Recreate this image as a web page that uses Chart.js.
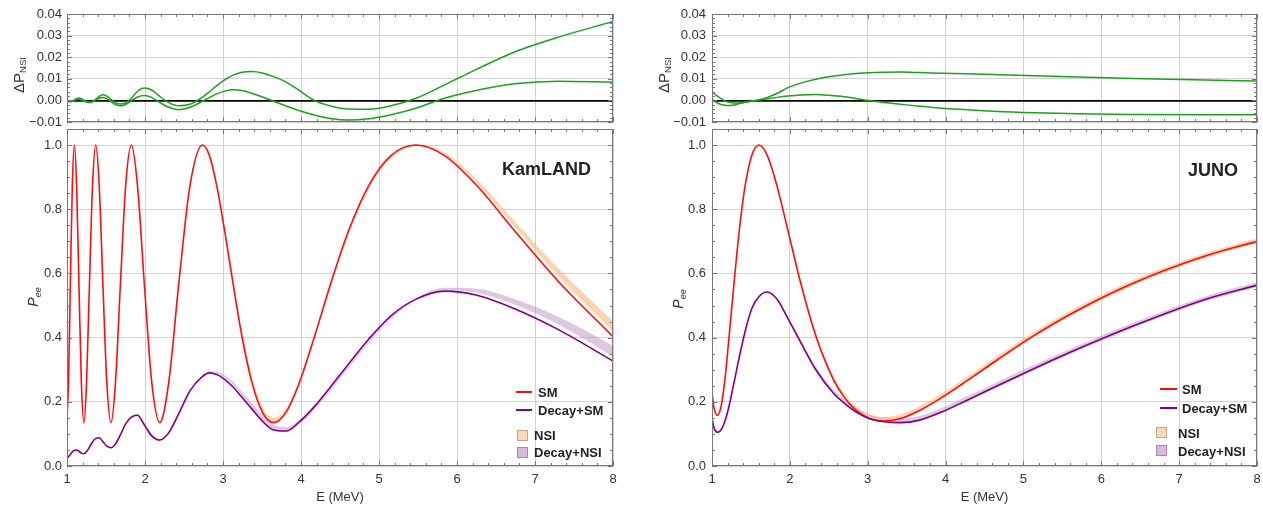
<!DOCTYPE html>
<html lang="en">
<head>
<meta charset="utf-8">
<title>Pee at KamLAND and JUNO</title>
<script src="https://cdn.jsdelivr.net/npm/chart.js@4.4.1/dist/chart.umd.min.js"></script>
<style>
  html, body { margin: 0; padding: 0; background: #fff; }
  #fig { position: relative; width: 1263px; height: 506px; overflow: hidden;
         font-family: 'Liberation Sans', Arial, sans-serif; color: #222; }
  #fig canvas { position: absolute; }
  .ytitle { position: absolute; transform: translate(-50%, -50%) rotate(-90deg);
            white-space: nowrap; color: #333; line-height: 1; }
  .ytitle sub { font-size: 0.64em; vertical-align: -0.3em; line-height: 0; }
  .tag { position: absolute; font-weight: bold; font-size: 18px; transform: translateY(-50%); }
  .legtext { position: absolute; font-weight: bold; font-size: 13px; transform: translateY(-50%); white-space: nowrap; }
  .legline { position: absolute; height: 2px; }
  .legbox { position: absolute; box-sizing: border-box; border: 1px solid; }
</style>
</head>
<body>
<div id="fig">
  <canvas id="kamTop" width="630" height="126" style="left:0;top:0"></canvas>
  <canvas id="kamMain" width="630" height="380" style="left:0;top:126px"></canvas>
  <canvas id="junoTop" width="623" height="126" style="left:640px;top:0"></canvas>
  <canvas id="junoMain" width="623" height="380" style="left:640px;top:126px"></canvas>

  <div class="ytitle" style="left:18px;top:75px;font-size:15px">ΔP<sub>NSI</sub></div>
  <div class="ytitle" style="left:663px;top:75px;font-size:15px">ΔP<sub>NSI</sub></div>
  <div class="ytitle" style="left:33px;top:297px;font-size:14px"><i>P</i><sub><i>ee</i></sub></div>
  <div class="ytitle" style="left:678px;top:299px;font-size:14px"><i>P</i><sub><i>ee</i></sub></div>

  <div class="tag" style="left:502px;top:169px">KamLAND</div>
  <div class="tag" style="left:1188px;top:170px">JUNO</div>
</div>

<script>
// ---- KamLAND: energy grid (MeV) and curves ----
const kamE = [1.000, 1.019, 1.043, 1.068, 1.095, 1.123, 1.153, 1.184, 1.217, 1.251,
              1.288, 1.327, 1.369, 1.413, 1.460, 1.510, 1.564, 1.622, 1.685, 1.752,
              1.825, 1.904, 1.991, 2.086, 2.190, 2.305, 2.433, 2.576, 2.737, 2.826,
              2.920, 3.021, 3.129, 3.244, 3.369, 3.504, 3.650, 3.809, 3.982, 4.171,
              4.380, 4.610, 4.867, 5.153, 5.475, 5.840, 6.257, 6.738, 7.300, 8.000];
const kamSM = [0.150, 0.262, 0.568, 0.873, 1.000, 0.873, 0.568, 0.262, 0.135, 0.262,
               0.568, 0.873, 1.000, 0.873, 0.568, 0.262, 0.135, 0.262, 0.568, 0.873,
               1.000, 0.873, 0.568, 0.262, 0.135, 0.262, 0.568, 0.873, 1.000, 0.967,
               0.873, 0.733, 0.568, 0.402, 0.262, 0.168, 0.135, 0.168, 0.262, 0.402,
               0.568, 0.733, 0.873, 0.967, 1.000, 0.967, 0.873, 0.733, 0.575, 0.403];
const kamDecaySM = [0.026, 0.029, 0.036, 0.044, 0.049, 0.050, 0.046, 0.040, 0.038, 0.045,
                    0.059, 0.075, 0.086, 0.088, 0.076, 0.062, 0.057, 0.069, 0.097, 0.131,
                    0.152, 0.158, 0.128, 0.094, 0.081, 0.104, 0.163, 0.234, 0.279, 0.290,
                    0.285, 0.270, 0.246, 0.214, 0.178, 0.140, 0.112, 0.109, 0.138, 0.185,
                    0.247, 0.318, 0.395, 0.468, 0.520, 0.545, 0.532, 0.490, 0.425, 0.327];
// NSI shift of Pee (top panel)
const kamDP1 = [-0.0003, -0.0005, -0.0006, -0.0004, 0.0002, 0.0008, 0.0011, 0.0008, 0.0001, -0.0005,
                -0.0008, -0.0005, 0.0005, 0.0019, 0.0026, 0.0020, 0.0005, -0.0010, -0.0017, -0.0012,
                0.0010, 0.0042, 0.0057, 0.0048, 0.0018, -0.0010, -0.0025, -0.0018, 0.0015, 0.0040,
                0.0068, 0.0095, 0.0117, 0.0130, 0.0134, 0.0127, 0.0110, 0.0085, 0.0045, 0.0000,
                -0.0026, -0.0040, -0.0041, -0.0025, 0.0010, 0.0072, 0.0145, 0.0224, 0.0293, 0.0365];
const kamDP2 = [0.0000, -0.0003, -0.0005, -0.0004, 0.0000, 0.0004, 0.0005, 0.0002, -0.0004, -0.0008,
                -0.0010, -0.0006, 0.0002, 0.0011, 0.0014, 0.0008, -0.0006, -0.0019, -0.0025, -0.0019,
                -0.0002, 0.0016, 0.0023, 0.0014, -0.0010, -0.0032, -0.0043, -0.0032, -0.0004, 0.0013,
                0.0030, 0.0043, 0.0049, 0.0046, 0.0033, 0.0016, -0.0004, -0.0026, -0.0048, -0.0068,
                -0.0084, -0.0091, -0.0085, -0.0066, -0.0036, 0.0010, 0.0047, 0.0077, 0.0089, 0.0085];
// width of the NSI bands around each curve (offsets from the line)
const kamBandLo = [-0.0004, -0.0007, -0.0008, -0.0006, 0.0000, 0.0006, 0.0007, 0.0003, -0.0006, -0.0011,
                   -0.0014, -0.0008, 0.0003, 0.0015, 0.0020, 0.0011, -0.0008, -0.0027, -0.0035, -0.0027,
                   -0.0003, 0.0022, 0.0032, 0.0020, -0.0014, -0.0045, -0.0060, -0.0045, -0.0006, 0.0018,
                   0.0042, 0.0060, 0.0069, 0.0064, 0.0046, 0.0022, -0.0006, -0.0036, -0.0067, -0.0095,
                   -0.0118, -0.0127, -0.0119, -0.0092, -0.0030, 0.0020, 0.0080, 0.0130, 0.0160, 0.0150];
const kamBandHi = [0.0000, -0.0004, -0.0007, -0.0006, 0.0003, 0.0011, 0.0015, 0.0011, 0.0001, -0.0007,
                   -0.0011, -0.0007, 0.0007, 0.0027, 0.0036, 0.0028, 0.0007, -0.0014, -0.0024, -0.0017,
                   0.0014, 0.0059, 0.0080, 0.0067, 0.0025, -0.0014, -0.0035, -0.0025, 0.0021, 0.0056,
                   0.0095, 0.0133, 0.0164, 0.0182, 0.0188, 0.0178, 0.0154, 0.0119, 0.0063, 0.0000,
                   -0.0036, -0.0056, -0.0057, -0.0035, 0.0020, 0.0100, 0.0200, 0.0300, 0.0400, 0.0480];

// ---- JUNO ----
const junoE = [1.000, 1.027, 1.069, 1.116, 1.167, 1.222, 1.283, 1.351, 1.426, 1.510,
               1.604, 1.711, 1.833, 1.974, 2.139, 2.333, 2.566, 2.702, 2.852, 3.019,
               3.208, 3.422, 3.666, 3.948, 4.277, 4.666, 5.133, 5.703, 6.416, 7.333, 8.000];
const junoSM = [0.228, 0.180, 0.158, 0.185, 0.272, 0.410, 0.570, 0.735, 0.874, 0.967,
                1.000, 0.967, 0.874, 0.735, 0.570, 0.406, 0.266, 0.213, 0.173, 0.148,
                0.140, 0.148, 0.173, 0.213, 0.266, 0.331, 0.406, 0.486, 0.570, 0.654, 0.700];
const junoDecaySM = [0.148, 0.118, 0.105, 0.112, 0.140, 0.190, 0.260, 0.340, 0.420, 0.490,
                     0.528, 0.542, 0.520, 0.460, 0.385, 0.300, 0.225, 0.195, 0.168, 0.148,
                     0.138, 0.135, 0.143, 0.168, 0.205, 0.250, 0.303, 0.365, 0.437, 0.519, 0.5635];
const junoDP1 = [0.0041, 0.0032, 0.0020, 0.0008, -0.0002, -0.0009, -0.0012, -0.0012, -0.0008, -0.0003,
                 0.0003, 0.0014, 0.0032, 0.0059, 0.0080, 0.0098, 0.0113, 0.0119, 0.0124, 0.0128,
                 0.0130, 0.0131, 0.0129, 0.0126, 0.0123, 0.0119, 0.0114, 0.0108, 0.0101, 0.0094, 0.0090];
const junoDP2 = [0.0006, -0.0002, -0.0012, -0.0019, -0.0023, -0.0024, -0.0021, -0.0015, -0.0009, -0.0004,
                 0.0002, 0.0008, 0.0014, 0.0020, 0.0025, 0.0027, 0.0021, 0.0017, 0.0009, -0.0001,
                 -0.0010, -0.0018, -0.0027, -0.0036, -0.0043, -0.0051, -0.0057, -0.0062, -0.0065, -0.0067, -0.0066];

// ---- axes ----
const energyTicks = [1, 2, 3, 4, 5, 6, 7, 8];
const energyTickLabels = ['1', '2', '3', '4', '5', '6', '7', '8'];
const dpTicks = [-0.01, 0, 0.01, 0.02, 0.03, 0.04];
const dpTickLabels = ['\u22120.01', '0.00', '0.01', '0.02', '0.03', '0.04'];
const peeTicks = [0, 0.2, 0.4, 0.6, 0.8, 1.0];
const peeTickLabels = ['0.0', '0.2', '0.4', '0.6', '0.8', '1.0'];
const legendLabels = ['SM', 'Decay+SM', 'NSI', 'Decay+NSI'];

const FONT = "'Liberation Sans', Arial, sans-serif";
const RED = '#ff0d0d';
const PURPLE = '#800085';
const GREEN = '#1ea01e';
const GRID = '#d2d2d2';
const NSI_FILL = 'rgba(250, 188, 128, 0.62)';
const DNSI_FILL = 'rgba(188, 146, 198, 0.5)';

const pts = (xs, ys) => xs.map((x, i) => ({ x, y: ys[i] }));

// scales keep the exact size we give them, no label overflow padding
const noOverflow = s => { s.paddingTop = 0; s.paddingBottom = 0; s.paddingLeft = 0; s.paddingRight = 0; };

// Mathematica-style frame with inward ticks on all four sides
const frameTicks = {
  id: 'frameTicks',
  afterDraw(chart, args, opts) {
    const { ctx, chartArea: a, scales: { x, y } } = chart;
    ctx.save();
    ctx.strokeStyle = '#777';
    ctx.lineWidth = 1;
    ctx.beginPath();
    const nx = Math.round((x.max - x.min) / opts.xMinor);
    for (let i = 0; i <= nx; i++) {
      const v = x.min + i * opts.xMinor;
      const len = Math.abs(v / opts.xMajor - Math.round(v / opts.xMajor)) < 1e-6 ? 5 : 3;
      const px = Math.round(x.getPixelForValue(v)) + 0.5;
      ctx.moveTo(px, a.bottom); ctx.lineTo(px, a.bottom - len);
      ctx.moveTo(px, a.top); ctx.lineTo(px, a.top + len);
    }
    const ny = Math.round((y.max - y.min) / opts.yMinor);
    for (let i = 0; i <= ny; i++) {
      const v = y.min + i * opts.yMinor;
      const len = Math.abs(v / opts.yMajor - Math.round(v / opts.yMajor)) < 1e-6 ? 5 : 3;
      const py = Math.round(y.getPixelForValue(v)) + 0.5;
      ctx.moveTo(a.left, py); ctx.lineTo(a.left + len, py);
      ctx.moveTo(a.right, py); ctx.lineTo(a.right - len, py);
    }
    ctx.stroke();
    ctx.strokeRect(Math.round(a.left) + 0.5, Math.round(a.top) + 0.5,
                   Math.round(a.right - a.left) - 1, Math.round(a.bottom - a.top) - 1);
    ctx.restore();
  }
};

function makeChart(id, datasets, cfg) {
  const zero = cfg.zeroLine;
  return new Chart(document.getElementById(id), {
    type: 'line',
    data: { datasets },
    options: {
      responsive: false,
      animation: false,
      devicePixelRatio: 1,
      events: [],
      layout: { autoPadding: false, padding: { top: cfg.top, right: cfg.padRight, left: 0, bottom: 0 } },
      elements: {
        point: { radius: 0 },
        line: { cubicInterpolationMode: 'monotone', borderJoinStyle: 'round', borderCapStyle: 'round' }
      },
      plugins: {
        legend: { display: false },
        tooltip: { enabled: false },
        filler: { drawTime: 'beforeDatasetsDraw' },
        frameTicks: cfg.frame
      },
      scales: {
        x: {
          type: 'linear', min: 1, max: 8,
          afterBuildTicks: s => { s.ticks = energyTicks.map(v => ({ value: v })); },
          afterFit: s => { s.height = cfg.xHeight; noOverflow(s); },
          grid: { color: GRID, drawTicks: false },
          border: { display: false },
          ticks: {
            display: cfg.showX, padding: 6, maxRotation: 0, autoSkip: false,
            color: '#333', font: { family: FONT, size: 13 },
            callback: (v, i) => energyTickLabels[i]
          },
          title: {
            display: cfg.showX, text: 'E (MeV)', color: '#333',
            font: { family: FONT, size: 13 }, padding: { top: 0, bottom: 1 }
          }
        },
        y: {
          type: 'linear', min: cfg.yMin, max: cfg.yMax,
          afterBuildTicks: s => { s.ticks = cfg.yTicks.map(v => ({ value: v })); },
          afterFit: s => { s.width = cfg.yWidth; noOverflow(s); },
          grid: {
            drawTicks: false,
            color: c => (zero && c.tick && c.tick.value === 0) ? '#000' : GRID,
            lineWidth: c => (zero && c.tick && c.tick.value === 0) ? 1.7 : 1
          },
          border: { display: false },
          ticks: {
            padding: cfg.yPad, color: '#333', font: { family: FONT, size: 13 },
            callback: (v, i) => cfg.yLabels[i]
          }
        }
      }
    },
    plugins: [frameTicks]
  });
}

function topDatasets(E, d1, d2) {
  return [
    { data: pts(E, d1), borderColor: GREEN, borderWidth: 1.5, fill: false },
    { data: pts(E, d2), borderColor: GREEN, borderWidth: 1.5, fill: false }
  ];
}

// lines plus the NSI bands (line + lo .. line + hi)
function mainDatasets(E, sm, dec, lo, hi) {
  const shift = (base, off) => base.map((v, i) => v + off[i]);
  const edge = { borderColor: 'rgba(0,0,0,0)', borderWidth: 0, order: 5 };
  return [
    { data: pts(E, sm), borderColor: RED, borderWidth: 1.6, fill: false, order: 1 },
    { data: pts(E, dec), borderColor: PURPLE, borderWidth: 1.6, fill: false, order: 0 },
    { data: pts(E, shift(sm, lo)), fill: false, ...edge },
    { data: pts(E, shift(sm, hi)), fill: '-1', backgroundColor: NSI_FILL, ...edge },
    { data: pts(E, shift(dec, lo)), fill: false, ...edge },
    { data: pts(E, shift(dec, hi)), fill: '-1', backgroundColor: DNSI_FILL, ...edge }
  ];
}

const topCfg = {
  top: 14, xHeight: 4, showX: false, zeroLine: true,
  yMin: -0.01, yMax: 0.04, yTicks: dpTicks, yLabels: dpTickLabels,
  frame: { xMinor: 0.2, xMajor: 1, yMinor: 0.002, yMajor: 0.01 }
};
const mainCfg = {
  top: 3, xHeight: 40, showX: true, zeroLine: false,
  yMin: 0, yMax: 1.05, yTicks: peeTicks, yLabels: peeTickLabels,
  frame: { xMinor: 0.2, xMajor: 1, yMinor: 0.05, yMajor: 0.2 }
};

// JUNO bands follow the envelope of the two ΔP curves
const junoBandLo = junoDP1.map((v, i) => Math.min(v, junoDP2[i]));
const junoBandHi = junoDP1.map((v, i) => Math.max(v, junoDP2[i]));

makeChart('kamTop', topDatasets(kamE, kamDP1, kamDP2),
  { ...topCfg, yWidth: 67, padRight: 17, yPad: 5 });
makeChart('kamMain', mainDatasets(kamE, kamSM, kamDecaySM, kamBandLo, kamBandHi),
  { ...mainCfg, yWidth: 67, padRight: 17, yPad: 5 });
makeChart('junoTop', topDatasets(junoE, junoDP1, junoDP2),
  { ...topCfg, yWidth: 72, padRight: 6, yPad: 6 });
makeChart('junoMain', mainDatasets(junoE, junoSM, junoDecaySM, junoBandLo, junoBandHi),
  { ...mainCfg, yWidth: 72, padRight: 6, yPad: 6 });

// ---- legends (inside the lower panels) ----
const legendSwatches = [
  { kind: 'line', color: RED },
  { kind: 'line', color: PURPLE },
  { kind: 'box', fill: '#fdd9b8', stroke: '#caa285' },
  { kind: 'box', fill: '#d8b9dc', stroke: '#a886ac' }
];
function addLegend(p) {
  const fig = document.getElementById('fig');
  legendLabels.forEach((label, i) => {
    const sw = legendSwatches[i];
    const cy = p.y[i];
    const mark = document.createElement('div');
    if (sw.kind === 'line') {
      mark.className = 'legline';
      Object.assign(mark.style, { left: p.lineX + 'px', top: (cy - 1) + 'px', width: p.lineW + 'px', background: sw.color });
    } else {
      mark.className = 'legbox';
      Object.assign(mark.style, { left: p.boxX + 'px', top: (cy - 5.5) + 'px', width: '11px', height: '11px',
                                  background: sw.fill, borderColor: sw.stroke });
    }
    fig.appendChild(mark);
    const t = document.createElement('div');
    t.className = 'legtext';
    t.textContent = label;
    Object.assign(t.style, { left: (sw.kind === 'line' ? p.lineTextX : p.boxTextX) + 'px', top: cy + 'px' });
    fig.appendChild(t);
  });
}
addLegend({ lineX: 516, lineW: 16, lineTextX: 538, boxX: 516.5, boxTextX: 534, y: [392, 410, 435, 452] });
addLegend({ lineX: 1160, lineW: 17, lineTextX: 1182, boxX: 1156, boxTextX: 1178, y: [389, 407.7, 432.8, 450.5] });
</script>
</body>
</html>
